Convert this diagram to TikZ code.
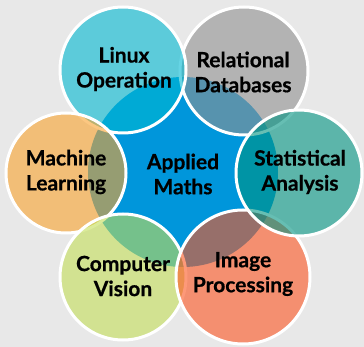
\documentclass[tikz,border=0pt]{standalone}
\usepackage{fontspec}
\setmainfont{Lato}[UprightFont=* Bold, UprightFeatures={FakeBold=0.6}]
\definecolor{bg}{RGB}{232,232,232}
\definecolor{cblue}{RGB}{0,150,219}
\definecolor{clinux}{RGB}{0,184,210}
\definecolor{crel}{RGB}{145,145,145}
\definecolor{cstat}{RGB}{0,147,129}
\definecolor{cimg}{RGB}{252,85,32}
\definecolor{ccv}{RGB}{196,222,87}
\definecolor{cml}{RGB}{250,162,45}
\tikzset{
  outer/.style={circle, inner sep=0pt, minimum size=#1, draw=white, line width=3pt, fill opacity=0.6},
  lbl/.style={align=center, font=\fontsize{21}{25}\selectfont, text=black, inner sep=0pt}
}
\begin{document}
\begin{tikzpicture}[x=1pt,y=-1pt]
\fill[bg] (0,0) rectangle (364,347);
\useasboundingbox (0,0) rectangle (364,347);
\node[circle, inner sep=0pt, minimum size=190pt, fill=cblue] (c) at (183,172) {};
\node[outer=128pt, fill=crel] (rel) at (244,71) {};
\node[outer=126pt, fill=clinux] (lin) at (123,70) {};
\node[outer=120pt, fill=cml] (ml) at (66,173) {};
\node[outer=126pt, fill=ccv] (cv) at (123,277) {};
\node[outer=134pt, fill=cimg] (ip) at (243,277) {};
\node[outer=126pt, fill=cstat] (st) at (299,173) {};
\node[lbl] (tc) at (183,174) {Applied\\Maths};
\node[lbl] (trel) at (243,72) {Relational\\Databases};
\node[lbl] (tlin) at (124,69) {Linux\\Operation};
\node[lbl] (tml) at (66,172) {Machine\\Learning};
\node[lbl] (tcv) at (123,276) {Computer\\Vision};
\node[lbl] (tip) at (243,274) {Image\\Processing};
\node[lbl] (tst) at (300,172) {Statistical\\Analysis};
\end{tikzpicture}
\end{document}
